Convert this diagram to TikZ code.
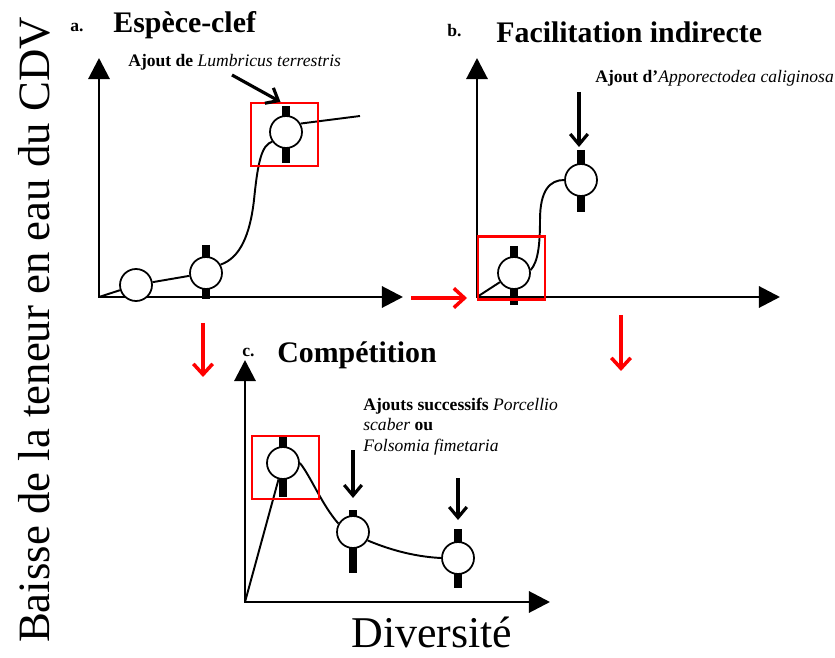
\documentclass[tikz,border=0pt]{standalone}
\usepackage{fontspec}
\setmainfont{Liberation Serif}
\usetikzlibrary{arrows.meta}

\begin{document}
\begin{tikzpicture}[x=0.02cm,y=-0.02cm,
  axis/.style={line width=1.7pt,{Triangle[length=12pt,width=12pt]}-{Triangle[length=12pt,width=12pt]}},
  curve/.style={line width=1.1pt},
  dot/.style={circle,draw,line width=1pt,fill=white,inner sep=0pt,minimum size=0.64cm},
  bar/.style={line width=4.8pt},
  redbox/.style={draw=red,line width=1.3pt,inner sep=0pt,minimum width=1.34cm,minimum height=1.26cm},
  pointer/.style={line width=1.8pt,-{Straight Barb[length=6pt,width=10pt]}},
  flow/.style={red,line width=2pt,-{Straight Barb[length=6pt,width=11pt]}},
  title/.style={anchor=base west,inner sep=0pt,font=\fontsize{17}{20}\selectfont\bfseries},
  tag/.style={anchor=base west,inner sep=0pt,font=\fontsize{10}{12}\selectfont\bfseries},
  note/.style={anchor=base west,inner sep=0pt,font=\fontsize{10}{11.5}\selectfont}]
  \useasboundingbox (0,0) rectangle (835,658);
  % 坐标轴标签
  \node[anchor=base,rotate=90,inner sep=0pt,font=\fontsize{25.5}{30}\selectfont] (ylab) at (50,330) {Baisse de la teneur en eau du CDV};
  \node[anchor=base west,inner sep=0pt,font=\fontsize{25}{30}\selectfont] (xlab) at (351,647) {Diversité};

  % a. 关键种
  \node[tag] (ta) at (70,32) {a.};
  \node[title] (Ta) at (113,33) {Espèce-clef};
  \coordinate (oa) at (99,297);
  \draw[axis] (99,58) |- (403,297);
  \draw[bar] (206,245) -- (206,299);
  \draw[bar] (286,106) -- (286,163);
  \node[dot] (a1) at (136,285) {};
  \node[dot] (a2) at (206,273) {};
  \node[dot] (a3) at (286,132) {};
  \coordinate (ea) at (360,116);
  \draw[curve] (oa) -- (a1) -- (a2);
  \draw[curve] (a2.30) .. controls (240,258) and (250,235) .. (254,200)
    .. controls (258,160) and (262,145) .. (a3.215);
  \draw[curve] (a3.30) -- (ea);
  \node[redbox] (ra) at (284.5,134.5) {};
  \node[note] (la) at (128,67) {\textbf{Ajout de} \textit{Lumbricus terrestris}};
  \draw[pointer] (232,75) -- ([xshift=-0.08cm]ra.north);

  % b. 间接促进
  \node[tag] (tb) at (447,37) {b.};
  \node[title] (Tb) at (496,43) {Facilitation indirecte};
  \coordinate (ob) at (477,297);
  \draw[axis] (477,58) |- (780,297);
  \draw[bar] (514,246) -- (514,305);
  \draw[bar] (581,150) -- (581,212);
  \node[dot] (b1) at (514,273) {};
  \node[dot] (b2) at (581,180) {};
  \draw[curve] (ob) -- (b1);
  \draw[curve] (b1.10) .. controls (538,262) and (540,245) .. (540,220)
    .. controls (540,190) and (550,180) .. (b2.west);
  \node[redbox] (rb) at (511.5,268) {};
  \node[note] (lb) at (595,83) {\textbf{Ajout d'}\textit{Apporectodea caliginosa}};
  \coordinate (pb) at (579,92);
  \coordinate (qb) at (579,147);
  \draw[pointer] (pb) -- (qb);

  % c. 竞争
  \node[tag] (tc) at (242,357) {c.};
  \node[title] (Tc) at (277,363) {Compétition};
  \coordinate (oc) at (245,602);
  \draw[axis] (245,360) |- (550,602);
  \draw[bar] (283,436) -- (283,497);
  \draw[bar] (353,510) -- (353,573);
  \draw[bar] (458,529) -- (458,588);
  \node[dot] (c1) at (283,463) {};
  \node[dot] (c2) at (353,532) {};
  \node[dot] (c3) at (458,558) {};
  \draw[curve] (oc) -- (c1);
  \draw[curve] (c1.east) .. controls (310,475) and (322,505) .. (c2.150);
  \draw[curve] (c2.-30) .. controls (395,552) and (420,557) .. (c3.west);
  \node[redbox] (rc) at (285.5,467.5) {};
  \node[note,anchor=north west,align=left] (lc) at (363,398)
    {\textbf{Ajouts successifs} \textit{Porcellio}\\ \textit{scaber} \textbf{ou}\\ \textit{Folsomia fimetaria}};
  \draw[pointer] (353,450) -- (353,498);
  \draw[pointer] (458,478) -- (458,520);

  % 红色箭头
  \draw[flow] (411,298) -- (467,298);
  \draw[flow] (203,323) -- (203,377);
  \draw[flow] (621,315) -- (621,371);
\end{tikzpicture}
\end{document}
